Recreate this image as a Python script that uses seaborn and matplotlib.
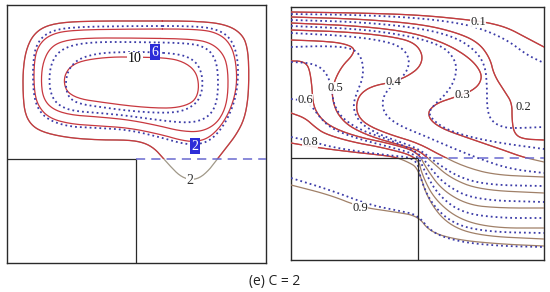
import numpy as np
import matplotlib
matplotlib.use("Agg")
import matplotlib.pyplot as plt
from matplotlib.patches import Rectangle
import seaborn as sns

# ---------------- data (panel units, origin at top-left corner of each panel) -------------
# Left panel: stream-function contours (closed loops)
LEFT_W, LEFT_H = 259, 258
LEFT_STEP = (129, 154)          # corner of the backward-facing step (x, depth)
left_red = {
    "2": [(126,16),(193,16),(221,20),(236,30),(241,45),(242,70),(241,95),(237,115),(229,130),(219,143),
          (211,153),(203,164),(193,173),(183,175),(173,171),(164,162),(156,153),(148,144),(138,138),
          (123,135),(93,135),(63,133),(38,128),(25,121),(18,109),(16,90),(16,65),(19,45),(26,30),
          (38,21),(58,17),(93,16),(126,16)],
    "4": [(126,24),(193,24),(213,29),(224,40),(229,57),(230,80),(225,101),(215,120),(202,133),(188,137),
          (173,135),(156,130),(123,123),(93,121),(63,119),(42,113),(31,101),(27,85),(27,57),(31,41),
          (42,30),(63,25),(126,24)],
    "6": [(126,33),(188,34),(206,39),(217,50),(221,65),(221,90),(217,107),(208,120),(193,127),(173,126),
          (153,121),(123,115),(93,112),(63,110),(45,104),(36,93),(34,75),(36,57),(43,43),(55,36),
          (78,33),(126,33)],
    "10": [(128,52),(163,53),(179,58),(189,67),(192,80),(190,92),(183,99),(168,103),(148,103),(123,101),
           (93,97),(73,94),(61,88),(57,79),(58,69),(65,60),(78,55),(103,52),(128,52)],
}
left_blue = {
    "2": [(126,21),(193,21),(215,26),(226,37),(231,55),(231,80),(226,102),(216,122),(203,136),(188,140),
          (173,138),(156,133),(123,125),(93,123),(63,122),(41,115),(30,103),(26,85),(26,55),(30,38),
          (41,27),(63,22),(126,21)],
    "4": [(126,37),(183,38),(200,43),(208,53),(211,67),(211,90),(207,105),(198,114),(183,118),(158,116),
          (123,111),(93,108),(65,106),(51,100),(44,90),(42,75),(44,59),(51,47),(65,40),(88,37),(126,37)],
    "6": [(143,47),(173,49),(187,55),(194,65),(196,80),(193,93),(186,101),(173,107),(153,108),(123,106),
          (93,102),(73,99),(63,94),(59,85),(59,73),(63,62),(73,53),(93,48),(118,47),(143,47)],
}
left_labels = [("10", 128, 54, "plain"), ("6", 148, 47, "box"), ("2", 188, 141, "box"), ("2", 183, 176, "grey")]

# Right panel: temperature contours 0.1 ... 0.9
RIGHT_W, RIGHT_H = 253, 253
RIGHT_STEP = (127, 151)
right_red = {
    "0.1": [(0,5),(69,6),(129,8),(179,13),(199,16),(217,21),(234,30),(253,40)],
    "0.2": [(0,10),(69,12),(129,17),(164,25),(187,35),(199,51),(203,68),(214,85),(221,96),(221,113),
            (223,126),(231,132),(253,133)],
    "0.3": [(0,16),(69,19),(119,25),(154,36),(179,51),(191,66),(189,77),(179,85),(164,90),(149,95),
            (141,100),(137,106),(140,114),(152,122),(174,130),(204,140),(231,150),(253,155)],
    "0.4": [(0,23),(59,25),(104,30),(124,36),(132,48),(129,60),(117,69),(102,75),(81,79),(69,87),
            (65,98),(67,109),(76,118),(97,127),(127,136),(149,148),(174,160),(204,168),(253,170)],
    "0.5": [(0,33),(29,34),(51,36),(64,41),(61,49),(52,58),(45,70),(41,83),(42,95),(47,108),(59,120),
            (81,130),(109,138),(127,143),(139,153),(159,171),(189,183),(253,186)],
    "0.6": [(0,54),(9,54),(16,57),(19,65),(21,80),(22,98),(29,111),(42,121),(67,130),(101,137),
            (127,145),(135,161),(151,183),(177,198),(209,201),(253,201)],
    "0.7": [(0,106),(14,111),(24,120),(34,127),(61,135),(94,141),(127,150),(131,168),(144,193),
            (169,213),(204,221),(253,221)],
    "0.8": [(0,136),(29,141),(61,145),(89,148),(104,150),(117,155),(127,161),(137,193),(157,218),
            (189,229),(253,232)],
    "0.9": [(0,178),(39,188),(69,200),(104,205),(127,209),(139,225),(167,233),(209,237),(253,239)],
}
right_blue = {
    "0.1": [(0,7),(69,8),(129,11),(174,17),(199,25),(219,35),(236,48),(253,56)],
    "0.2": [(0,13),(69,15),(129,21),(164,30),(184,43),(194,58),(196,78),(196,103),(201,115),(214,121),
            (229,121),(253,120)],
    "0.3": [(0,19),(69,22),(119,29),(149,38),(161,48),(166,60),(163,75),(154,88),(144,97),(137,106),
            (144,115),(157,123),(179,130),(209,136),(253,142)],
    "0.4": [(0,26),(59,29),(99,35),(114,43),(119,55),(114,68),(101,78),(93,88),(91,98),(95,109),
            (109,119),(134,129),(159,140),(189,152),(219,162),(253,166)],
    "0.5": [(0,40),(29,39),(54,40),(66,44),(72,55),(72,71),(66,85),(62,98),(65,110),(74,120),(94,130),
            (127,141),(144,155),(169,171),(199,178),(253,179)],
    "0.6": [(0,55),(19,56),(31,61),(38,71),(41,85),(43,98),(51,111),(69,123),(99,133),(127,145),
            (137,158),(154,178),(184,193),(253,195)],
    "0.7": [(0,92),(9,93),(19,97),(27,108),(39,121),(64,131),(99,140),(127,148),(133,163),(147,188),
            (171,206),(209,211),(253,211)],
    "0.8": [(0,130),(19,134),(44,141),(94,148),(126,151),(129,171),(141,198),(164,218),(199,225),
            (253,226)],
    "0.9": [(0,171),(39,183),(79,198),(109,204),(127,208),(141,226),(169,235),(209,239),(253,240)],
}
right_labels = [("0.1", 187, 15), ("0.2", 232, 100), ("0.3", 171, 88), ("0.4", 102, 75),
                ("0.5", 44, 81), ("0.6", 14, 93), ("0.8", 19, 135), ("0.9", 69, 201)]

caption = "(e) C = 2"

# ---------------- styling ----------------
RED = "#c8383f"
BROWN = "#a08068"
GREY = "#a09888"
BLUE = "#3c3ca8"
DASH = "#6a6ad0"
FRAME = "#2a2a2a"
DOTS = (0, (1, 1.7))

sns.set_style("white")
plt.rcParams["font.family"] = ["DejaVu Sans"]


def chaikin(pts, closed, n=3):
    p = np.asarray(pts, dtype=float)
    if closed and np.allclose(p[0], p[-1]):
        p = p[:-1]
    for _ in range(n):
        if closed:
            nxt = np.roll(p, -1, axis=0)
            q = 0.75 * p + 0.25 * nxt
            r = 0.25 * p + 0.75 * nxt
            p = np.empty((2 * len(q), 2))
            p[0::2], p[1::2] = q, r
        else:
            a, b = p[:-1], p[1:]
            q = 0.75 * a + 0.25 * b
            r = 0.25 * a + 0.75 * b
            mid = np.empty((2 * len(q), 2))
            mid[0::2], mid[1::2] = q, r
            p = np.vstack([p[:1], mid, p[-1:]])
    if closed:
        p = np.vstack([p, p[:1]])
    return p[:, 0], p[:, 1]


def draw(ax, pts, closed, color, lw, ls="-", clip=None, z=3):
    x, y = chaikin(pts, closed)
    sns.lineplot(x=x, y=y, sort=False, estimator=None, ax=ax, color=color,
                 linewidth=lw, linestyle=ls, zorder=z)
    line = ax.lines[-1]
    if clip is not None:
        line.set_clip_path(clip)
    return line


def setup(ax, W, H, step):
    ax.set_xlim(0, W)
    ax.set_ylim(H, 0)
    ax.set_xticks([])
    ax.set_yticks([])
    ax.set_xlabel("")
    ax.set_ylabel("")
    for s in ax.spines.values():
        s.set_color(FRAME)
        s.set_linewidth(1.0)
        s.set_visible(True)
    sx, sy = step
    ax.plot([0, sx], [sy, sy], color=FRAME, lw=0.9, zorder=5)
    ax.plot([sx, sx], [sy, H], color=FRAME, lw=0.9, zorder=5)
    ax.plot([sx, W], [sy, sy], color=DASH, lw=1.1, dashes=(6, 4), zorder=5)


fig = plt.figure(figsize=(5.5, 2.92), dpi=100)
axL = fig.add_axes([7 / 550, 29 / 292, 259 / 550, 258 / 292])
axR = fig.add_axes([291 / 550, 32 / 292, 253 / 550, 253 / 292])

serif = ["Liberation Serif", "DejaVu Serif"]

# ----- left panel -----
clipL = Rectangle((0, 0), LEFT_W, LEFT_STEP[1], transform=axL.transData)
for key, pts in left_red.items():
    if key == "2":
        draw(axL, pts, True, GREY, 0.9)
        draw(axL, pts, True, RED, 0.9, clip=clipL)
    else:
        draw(axL, pts, True, RED, 0.9)
for key, pts in left_blue.items():
    draw(axL, pts, True, BLUE, 1.3, ls=DOTS, z=4)

for txt, x, y, kind in left_labels:
    if kind == "plain":
        axL.text(x, y, txt, ha="center", va="center", fontsize=10, family=serif, color="black",
                 bbox=dict(facecolor="white", edgecolor="none", pad=0.5), zorder=6)
    elif kind == "box":
        axL.text(x, y, txt, ha="center", va="center", fontsize=10, family=serif, color="white",
                 bbox=dict(facecolor="#2d2dd8", edgecolor="none", pad=0.8), zorder=6)
    else:
        axL.text(x, y, txt, ha="center", va="center", fontsize=10, family=serif, color="#333333",
                 bbox=dict(facecolor="white", edgecolor="none", pad=0.3), zorder=6)
setup(axL, LEFT_W, LEFT_H, LEFT_STEP)

# ----- right panel -----
clipR = Rectangle((0, 0), RIGHT_W, RIGHT_STEP[1], transform=axR.transData)
for key, pts in right_red.items():
    draw(axR, pts, False, BROWN, 0.9)
    draw(axR, pts, False, RED, 0.9, clip=clipR)
for key, pts in right_blue.items():
    draw(axR, pts, False, BLUE, 1.3, ls=DOTS, z=4)

for txt, x, y in right_labels:
    axR.text(x, y, txt, ha="center", va="center", fontsize=9, family=serif, color="#222222",
             bbox=dict(facecolor="white", edgecolor="none", pad=0.2, alpha=0.9), zorder=6)
setup(axR, RIGHT_W, RIGHT_H, RIGHT_STEP)

fig.text(0.5, 1 - 281 / 292, caption, ha="center", va="center", fontsize=10,
         family=["Open Sans", "DejaVu Sans"], color="#222222")

fig.savefig("out.png", dpi=100, facecolor="white")
